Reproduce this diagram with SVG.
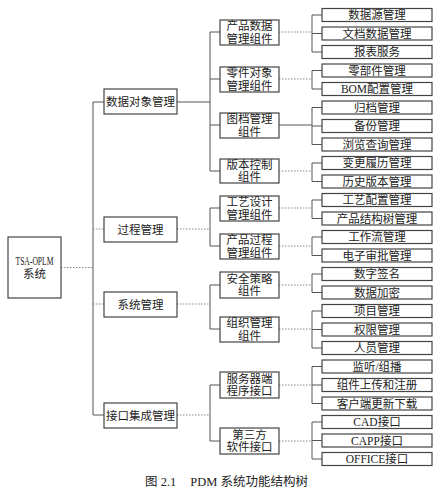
<svg xmlns="http://www.w3.org/2000/svg" width="442" height="500" viewBox="0 0 442 500">
<style>
.b{fill:#fff;stroke:#444;stroke-width:1.2}
.t{font-family:"Liberation Serif","Noto Sans CJK SC",serif;font-size:11.5px;fill:#222;text-anchor:middle;dominant-baseline:central}
.c{fill:none;stroke:#555;stroke-width:1}
.d{fill:none;stroke:#888;stroke-width:1;stroke-dasharray:1.5 1.5}
.cap{font-family:"Liberation Serif","Noto Sans CJK SC",serif;font-size:12.5px;fill:#222}
</style>
<rect width="442" height="500" fill="#fff"/>
<g id="connectors">
<path class="d" d="M61 267.5H93"/>
<path class="c" d="M104 102H93V415H104"/>
<path class="d" d="M93 229H104M93 304H104"/>
<path class="c" d="M177 102H210M220 32H210V171H220M210 79H220M210 125H220"/>
<path class="d" d="M177 229H210"/><path class="c" d="M220 208H210V246H220"/>
<path class="d" d="M177 304H210"/><path class="c" d="M220 285H210V329H220"/>
<path class="d" d="M177 415H210"/><path class="c" d="M220 385H210V441H220"/>
<path class="d" d="M279 32H312M279 79H312M279 171H312M279 208H312M279 246H312M279 285H312M279 329H312M279 385H312M279 441H312"/>
<path class="c" d="M279 125H312"/>
<path class="c" d="M322 15H312V52H322M312 33.5H322"/>
<path class="c" d="M322 70.5H312V89H322"/>
<path class="c" d="M322 107.5H312V144.5H322M312 126H322"/>
<path class="c" d="M322 163H312V181.5H322"/>
<path class="c" d="M322 200H312V218.5H322"/>
<path class="c" d="M322 237H312V255.5H322"/>
<path class="c" d="M322 274H312V292.5H322"/>
<path class="c" d="M322 311H312V348H322M312 329.5H322"/>
<path class="c" d="M322 366.5H312V403.5H322M312 385H322"/>
<path class="c" d="M322 422H312V459H322M312 440.5H322"/>
</g>
<g id="root"><rect class="b" x="8" y="237" width="53" height="61"/><text class="t" x="34.5" y="261" font-size="10.5" textLength="38" lengthAdjust="spacingAndGlyphs">TSA-OPLM</text><text class="t" x="34.5" y="274">系统</text></g>
<g id="n-data"><rect class="b" x="104" y="89" width="73" height="25"/><text class="t" x="140.5" y="102">数据对象管理</text></g>
<g id="n-proc"><rect class="b" x="104" y="217" width="73" height="25"/><text class="t" x="140.5" y="229.5">过程管理</text></g>
<g id="n-sys"><rect class="b" x="104" y="292" width="73" height="25"/><text class="t" x="140.5" y="304.5">系统管理</text></g>
<g id="n-intf"><rect class="b" x="104" y="403" width="73" height="25"/><text class="t" x="140.5" y="415.5">接口集成管理</text></g>
<g id="c-pdm"><rect class="b" x="220" y="20" width="59" height="25"/><text class="t" x="249.5" y="26">产品数据</text><text class="t" x="249.5" y="38.5">管理组件</text></g>
<g id="c-part"><rect class="b" x="220" y="67" width="59" height="25"/><text class="t" x="249.5" y="73">零件对象</text><text class="t" x="249.5" y="85.5">管理组件</text></g>
<g id="c-doc"><rect class="b" x="220" y="113" width="59" height="25"/><text class="t" x="249.5" y="119">图档管理</text><text class="t" x="249.5" y="131.5">组件</text></g>
<g id="c-ver"><rect class="b" x="220" y="159" width="59" height="24"/><text class="t" x="249.5" y="164.5">版本控制</text><text class="t" x="249.5" y="177">组件</text></g>
<g id="c-craft"><rect class="b" x="220" y="196" width="59" height="25"/><text class="t" x="249.5" y="202">工艺设计</text><text class="t" x="249.5" y="214.5">管理组件</text></g>
<g id="c-pproc"><rect class="b" x="220" y="234" width="59" height="25"/><text class="t" x="249.5" y="240">产品过程</text><text class="t" x="249.5" y="252.5">管理组件</text></g>
<g id="c-sec"><rect class="b" x="220" y="272" width="59" height="26"/><text class="t" x="249.5" y="278.5">安全策略</text><text class="t" x="249.5" y="291">组件</text></g>
<g id="c-org"><rect class="b" x="220" y="317" width="59" height="25"/><text class="t" x="249.5" y="323">组织管理</text><text class="t" x="249.5" y="335.5">组件</text></g>
<g id="c-srv"><rect class="b" x="220" y="372" width="59" height="26"/><text class="t" x="249.5" y="378.5">服务器端</text><text class="t" x="249.5" y="391">程序接口</text></g>
<g id="c-3rd"><rect class="b" x="220" y="428" width="59" height="26"/><text class="t" x="249.5" y="434.5">第三方</text><text class="t" x="249.5" y="447">软件接口</text></g>
<g id="l1"><rect class="b" x="322" y="8.5" width="110" height="13"/><text class="t" x="377" y="15">数据源管理</text></g>
<g id="l2"><rect class="b" x="322" y="27" width="110" height="13"/><text class="t" x="377" y="33.5">文档数据管理</text></g>
<g id="l3"><rect class="b" x="322" y="45.5" width="110" height="13"/><text class="t" x="377" y="52">报表服务</text></g>
<g id="l4"><rect class="b" x="322" y="64" width="110" height="13"/><text class="t" x="377" y="70.5">零部件管理</text></g>
<g id="l5"><rect class="b" x="322" y="82.5" width="110" height="13"/><text class="t" x="377" y="89">BOM配置管理</text></g>
<g id="l6"><rect class="b" x="322" y="101" width="110" height="13"/><text class="t" x="377" y="107.5">归档管理</text></g>
<g id="l7"><rect class="b" x="322" y="119.5" width="110" height="13"/><text class="t" x="377" y="126">备份管理</text></g>
<g id="l8"><rect class="b" x="322" y="138" width="110" height="13"/><text class="t" x="377" y="144.5">浏览查询管理</text></g>
<g id="l9"><rect class="b" x="322" y="156.5" width="110" height="13"/><text class="t" x="377" y="163">变更履历管理</text></g>
<g id="l10"><rect class="b" x="322" y="175" width="110" height="13"/><text class="t" x="377" y="181.5">历史版本管理</text></g>
<g id="l11"><rect class="b" x="322" y="193.5" width="110" height="13"/><text class="t" x="377" y="200">工艺配置管理</text></g>
<g id="l12"><rect class="b" x="322" y="212" width="110" height="13"/><text class="t" x="377" y="218.5">产品结构树管理</text></g>
<g id="l13"><rect class="b" x="322" y="230.5" width="110" height="13"/><text class="t" x="377" y="237">工作流管理</text></g>
<g id="l14"><rect class="b" x="322" y="249" width="110" height="13"/><text class="t" x="377" y="255.5">电子审批管理</text></g>
<g id="l15"><rect class="b" x="322" y="267.5" width="110" height="13"/><text class="t" x="377" y="274">数字签名</text></g>
<g id="l16"><rect class="b" x="322" y="286" width="110" height="13"/><text class="t" x="377" y="292.5">数据加密</text></g>
<g id="l17"><rect class="b" x="322" y="304.5" width="110" height="13"/><text class="t" x="377" y="311">项目管理</text></g>
<g id="l18"><rect class="b" x="322" y="323" width="110" height="13"/><text class="t" x="377" y="329.5">权限管理</text></g>
<g id="l19"><rect class="b" x="322" y="341.5" width="110" height="13"/><text class="t" x="377" y="348">人员管理</text></g>
<g id="l20"><rect class="b" x="322" y="360" width="110" height="13"/><text class="t" x="377" y="366.5">监听/组播</text></g>
<g id="l21"><rect class="b" x="322" y="378.5" width="110" height="13"/><text class="t" x="377" y="385">组件上传和注册</text></g>
<g id="l22"><rect class="b" x="322" y="397" width="110" height="13"/><text class="t" x="377" y="403.5">客户端更新下载</text></g>
<g id="l23"><rect class="b" x="322" y="415.5" width="110" height="13"/><text class="t" x="377" y="422">CAD接口</text></g>
<g id="l24"><rect class="b" x="322" y="434" width="110" height="13"/><text class="t" x="377" y="440.5">CAPP接口</text></g>
<g id="l25"><rect class="b" x="322" y="452.5" width="110" height="13"/><text class="t" x="377" y="459">OFFICE接口</text></g>
<text class="cap" x="145" y="486">图 2.1<tspan dx="14">PDM 系统功能结构树</tspan></text>
</svg>
